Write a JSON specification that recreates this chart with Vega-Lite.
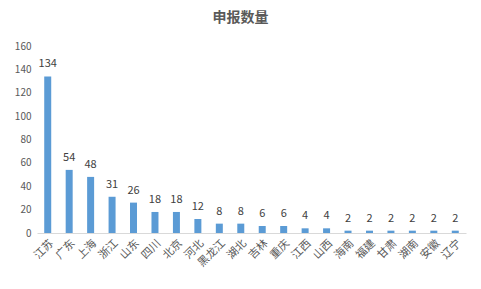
{
  "$schema": "https://vega.github.io/schema/vega-lite/v6.json",
  "width": 429,
  "height": 187,
  "autosize": {"type": "none"},
  "padding": {"left": 37, "top": 46, "right": 15, "bottom": 56},
  "background": "white",
  "config": {
    "view": {"stroke": null},
    "font": "Noto Sans CJK SC"
  },
  "title": {
    "text": "申报数量",
    "fontSize": 14,
    "fontWeight": "bold",
    "color": "#595959",
    "anchor": "middle",
    "dx": -11,
    "offset": 16
  },
  "data": {
    "values": [
      {"province": "江苏", "count": 134},
      {"province": "广东", "count": 54},
      {"province": "上海", "count": 48},
      {"province": "浙江", "count": 31},
      {"province": "山东", "count": 26},
      {"province": "四川", "count": 18},
      {"province": "北京", "count": 18},
      {"province": "河北", "count": 12},
      {"province": "黑龙江", "count": 8},
      {"province": "湖北", "count": 8},
      {"province": "吉林", "count": 6},
      {"province": "重庆", "count": 6},
      {"province": "江西", "count": 4},
      {"province": "山西", "count": 4},
      {"province": "海南", "count": 2},
      {"province": "福建", "count": 2},
      {"province": "甘肃", "count": 2},
      {"province": "湖南", "count": 2},
      {"province": "安徽", "count": 2},
      {"province": "辽宁", "count": 2}
    ]
  },
  "encoding": {
    "x": {
      "field": "province",
      "type": "nominal",
      "sort": null,
      "title": null,
      "axis": {
        "labelAngle": -45,
        "labelFontSize": 11,
        "labelColor": "#595959",
        "domainColor": "#d9d9d9",
        "ticks": false,
        "labelPadding": 4
      }
    },
    "y": {
      "field": "count",
      "type": "quantitative",
      "scale": {"domain": [0, 160]},
      "title": null,
      "axis": {
        "values": [0, 20, 40, 60, 80, 100, 120, 140, 160],
        "domain": false,
        "ticks": false,
        "grid": false,
        "labelFontSize": 10,
        "labelColor": "#595959",
        "labelPadding": 6
      }
    }
  },
  "layer": [
    {"mark": {"type": "bar", "color": "#5B9BD5", "size": 7}},
    {
      "mark": {"type": "text", "dy": -12, "fontSize": 11, "color": "#404040"},
      "encoding": {"text": {"field": "count", "type": "quantitative"}}
    }
  ]
}
